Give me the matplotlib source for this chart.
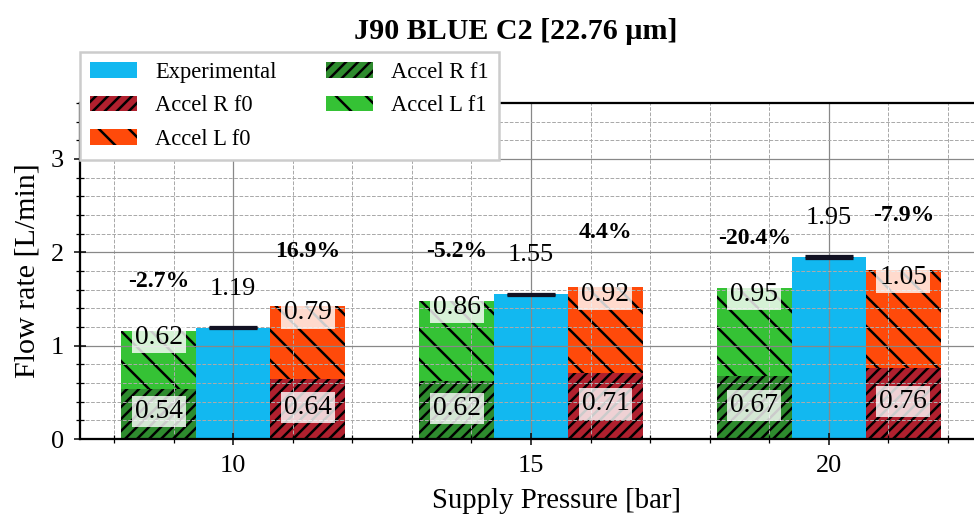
import matplotlib.pyplot as plt
from matplotlib.ticker import MultipleLocator

# Data
pressures = [10, 15, 20]
experimental = [1.19, 1.55, 1.95]
exp_err = [0.005, 0.005, 0.012]
accel_r_f1 = [0.54, 0.62, 0.67]
accel_l_f1 = [0.62, 0.86, 0.95]
accel_r_f0 = [0.64, 0.71, 0.76]
accel_l_f0 = [0.79, 0.92, 1.05]
err_f1 = ['-2.7%', '-5.2%', '-20.4%']
err_f0 = ['16.9%', '4.4%', '-7.9%']

plt.rcParams['font.family'] = ['Liberation Serif', 'DejaVu Serif']
plt.rcParams['hatch.linewidth'] = 1.0

dpi = 180
fig = plt.figure(figsize=(974 / dpi, 518 / dpi), dpi=dpi)
ax = fig.add_axes([80 / 974, 1 - 439 / 518, 902 / 974, 336 / 518])

w = 1.25
x_f1 = [p - w for p in pressures]
x_f0 = [p + w for p in pressures]
f1_top = [a + b for a, b in zip(accel_r_f1, accel_l_f1)]
f0_top = [a + b for a, b in zip(accel_r_f0, accel_l_f0)]

b_exp = ax.bar(pressures, experimental, w, color='#12B8F0', zorder=2)
ax.errorbar(pressures, experimental, yerr=exp_err, fmt='none', ecolor='#111122',
            capsize=9.5, capthick=1.3, elinewidth=1.3, zorder=3)
b_rf0 = ax.bar(x_f0, accel_r_f0, w, color='#B0202E', edgecolor='black',
               linewidth=0, hatch='/////', zorder=2)
b_lf0 = ax.bar(x_f0, accel_l_f0, w, bottom=accel_r_f0, color='#FF4A0A',
               edgecolor='black', linewidth=0, hatch='\\\\', zorder=2)
b_rf1 = ax.bar(x_f1, accel_r_f1, w, color='#2E8B2E', edgecolor='black',
               linewidth=0, hatch='/////', zorder=2)
b_lf1 = ax.bar(x_f1, accel_l_f1, w, bottom=accel_r_f1, color='#35C235',
               edgecolor='black', linewidth=0, hatch='\\\\', zorder=2)

box = dict(facecolor='white', alpha=0.8, edgecolor='none', pad=1.2)
for i in range(len(pressures)):
    # segment values inside the bars
    ax.text(x_f1[i], accel_r_f1[i] / 2 + 0.02, f'{accel_r_f1[i]:.2f}', ha='center',
            va='center', fontsize=11, bbox=box, zorder=4)
    ax.text(x_f0[i], accel_r_f0[i] / 2 + 0.02, f'{accel_r_f0[i]:.2f}', ha='center',
            va='center', fontsize=11, bbox=box, zorder=4)
    ax.text(x_f1[i], f1_top[i] - 0.07, f'{accel_l_f1[i]:.2f}', ha='center',
            va='center', fontsize=11, bbox=box, zorder=4)
    ax.text(x_f0[i], f0_top[i] - 0.08, f'{accel_l_f0[i]:.2f}', ha='center',
            va='center', fontsize=11, bbox=box, zorder=4)
    # experimental value and relative errors above
    ax.text(pressures[i], experimental[i] + 0.42, f'{experimental[i]:.2f}',
            ha='center', va='center', fontsize=10.5, zorder=4)
    ax.text(x_f1[i], f1_top[i] + 0.53, err_f1[i], ha='center', va='center',
            fontsize=9.5, fontweight='bold', zorder=4)
    ax.text(x_f0[i], f0_top[i] + 0.58, err_f0[i], ha='center', va='center',
            fontsize=9.5, fontweight='bold', zorder=4)

ax.set_xlim(7.43, 22.57)
ax.set_ylim(0, 3.6)
ax.set_xticks(pressures)
ax.set_yticks([0, 1, 2, 3])
ax.xaxis.set_minor_locator(MultipleLocator(1))
ax.yaxis.set_minor_locator(MultipleLocator(0.2))
ax.tick_params(which='major', direction='inout', length=5, width=0.6,
               labelsize=10.5, pad=4)
ax.tick_params(which='minor', direction='inout', length=3, width=0.5)
ax.grid(True, which='major', color='#888888', linewidth=0.5, zorder=2.5)
ax.grid(True, which='minor', color='#aaaaaa', linestyle='--', linewidth=0.4, zorder=2.5)
ax.set_axisbelow(False)
ax.spines['right'].set_visible(False)
for s in ['left', 'bottom', 'top']:
    ax.spines[s].set_linewidth(0.9)
    ax.spines[s].set_zorder(5)

ax.set_ylabel('Flow rate [L/min]', fontsize=12, labelpad=4)
ax.set_xlabel('Supply Pressure [bar]', fontsize=11.5, labelpad=4)
ax.xaxis.set_label_coords(0.528, -0.145)
fig.text(0.53, 0.94, 'J90 BLUE C2 [22.76 \u00b5m]', ha='center', va='center',
         fontsize=12, fontweight='bold')

fig.legend([b_exp, b_rf0, b_lf0, b_rf1, b_lf1],
           ['Experimental', 'Accel R f0', 'Accel L f0', 'Accel R f1', 'Accel L f1'],
           loc='upper left', bbox_to_anchor=(0.082, 0.9), ncol=2, fontsize=9,
           fancybox=False, framealpha=1, edgecolor='#cccccc', borderaxespad=0,
           handlelength=2.1, handleheight=0.7, columnspacing=2.2, labelspacing=0.55,
           borderpad=0.45)

fig.savefig('out.png', dpi=dpi)
